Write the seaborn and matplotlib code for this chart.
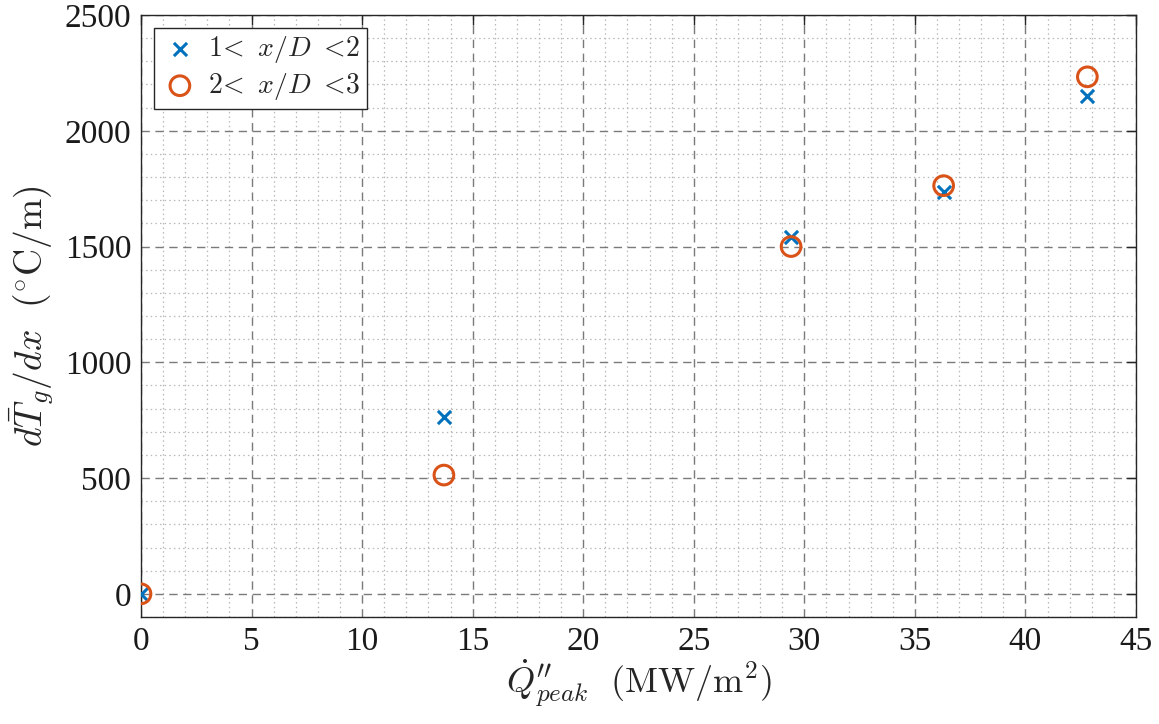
import matplotlib
matplotlib.use("Agg")
import matplotlib.pyplot as plt
from matplotlib.ticker import MultipleLocator
import pandas as pd
import seaborn as sns

# Peak heat flux (MW/m^2) and mean gas-temperature gradient (°C/m)
q_peak = [0.0, 13.7, 29.4, 36.3, 42.8]
grad_1_2 = [0, 763, 1543, 1737, 2150]
grad_2_3 = [0, 513, 1500, 1763, 2233]
series_labels = [r"$1\!<\ x/D\ <\!2$", r"$2\!<\ x/D\ <\!3$"]
x_ticks = [0, 5, 10, 15, 20, 25, 30, 35, 40, 45]
y_ticks = [0, 500, 1000, 1500, 2000, 2500]

df = pd.DataFrame({
    "q": q_peak * 2,
    "grad": grad_1_2 + grad_2_3,
    "range": [series_labels[0]] * len(q_peak) + [series_labels[1]] * len(q_peak),
})

sns.set_theme(style="white")
plt.rcParams["font.family"] = ["Liberation Serif", "DejaVu Serif"]
plt.rcParams["mathtext.fontset"] = "cm"

fig = plt.figure(figsize=(11.59, 7.24), dpi=100)
ax = fig.add_axes([141 / 1159, 1 - 617 / 724, (1136 - 141) / 1159, (617 - 15) / 724])

blue = "#0072BD"
orange = "#D95319"

sns.scatterplot(data=df[df["range"] == series_labels[0]], x="q", y="grad",
                marker="x", color=blue, s=90, linewidth=2.2, ax=ax,
                label=series_labels[0], zorder=3)
sns.scatterplot(data=df[df["range"] == series_labels[1]], x="q", y="grad",
                marker="o", facecolor="none", edgecolor=orange, s=200,
                linewidth=2.2, ax=ax, label=series_labels[1], zorder=3)

ax.set_xlim(0, 45)
ax.set_ylim(-100, 2500)
ax.set_xticks(x_ticks)
ax.set_yticks(y_ticks)
ax.xaxis.set_minor_locator(MultipleLocator(1))
ax.yaxis.set_minor_locator(MultipleLocator(100))

ax.grid(which="major", linestyle=(0, (6, 4)), color="#7a7a7a", linewidth=1.0, zorder=0)
ax.grid(which="minor", linestyle=(0, (1.2, 2.5)), color="#b8b8b8", linewidth=0.9, zorder=0)
ax.set_axisbelow(True)

ax.tick_params(which="major", direction="in", length=7, width=1.0, color="#262626",
               top=True, right=True, labelsize=24, pad=7, labelcolor="#1a1a1a")
ax.tick_params(which="minor", length=0)
for sp in ax.spines.values():
    sp.set_color("#262626")
    sp.set_linewidth(1.0)

ax.set_xlabel(r"$\dot{Q}^{\prime\prime}_{peak}\ \ (\mathrm{MW/m^2})$", fontsize=26, labelpad=0)
ax.set_ylabel(r"$d\bar{T}_g/dx\ \ (^{\circ}\mathrm{C/m})$", fontsize=27, labelpad=6)

leg = ax.legend(loc="upper left", fontsize=20, frameon=True, fancybox=False,
                edgecolor="#262626", framealpha=1, borderaxespad=0.45,
                handletextpad=0.3, borderpad=0.25, labelspacing=0.2,
                handlelength=1.4)
leg.get_frame().set_linewidth(1.0)

fig.savefig("out.png", dpi=100)
